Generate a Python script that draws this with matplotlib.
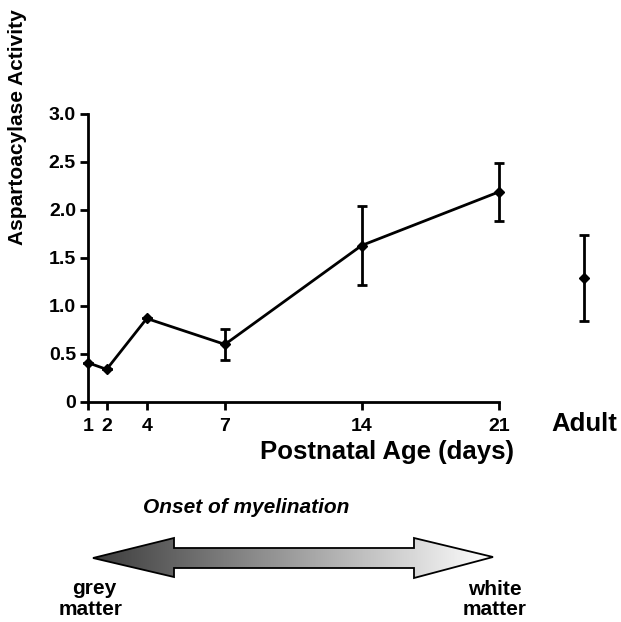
import numpy as np
import matplotlib
matplotlib.use("Agg")
import matplotlib.pyplot as plt
from matplotlib.patches import Polygon

plt.rcParams['font.family'] = ['Liberation Sans', 'DejaVu Sans']

# ---- data ----
days = [1, 2, 4, 7, 14, 21]
activity = [0.41, 0.34, 0.87, 0.60, 1.63, 2.19]
activity_err = [0.0, 0.0, 0.0, 0.16, 0.41, 0.30]
adult_label = "Adult"
adult_activity = 1.29
adult_err = 0.45
y_ticks = [0, 0.5, 1.0, 1.5, 2.0, 2.5, 3.0]
y_tick_labels = ["0", "0.5", "1.0", "1.5", "2.0", "2.5", "3.0"]

# ---- layout (positions on the drawn axis) ----
x_pos = [1, 1.92, 3.87, 7.67, 14.31, 21]
adult_pos = 25.13

W, H = 621, 622
fig = plt.figure(figsize=(W / 100, H / 100), dpi=100)
ax = fig.add_axes([87.7 / W, 1 - 402 / H, 535 / W, 288 / H])

for art in [
    ax.errorbar(x_pos, activity, yerr=activity_err, color='black', lw=2.0,
                marker='D', ms=5, capsize=3.3, elinewidth=2.0, capthick=2.0),
    ax.errorbar([adult_pos], [adult_activity], yerr=[adult_err], color='black',
                lw=0, marker='D', ms=5, capsize=3.3, elinewidth=2.0, capthick=2.0),
]:
    for child in art.get_children():
        child.set_clip_on(False)
    art.lines[0].set_clip_on(False)

ax.set_xlim(1, 27)
ax.set_ylim(0, 3.0)
for s in ['top', 'right']:
    ax.spines[s].set_visible(False)
ax.spines['bottom'].set_bounds(1, 21)
ax.spines['left'].set_bounds(0, 3.0)
for s in ['left', 'bottom']:
    ax.spines[s].set_linewidth(2.0)
ax.set_xticks(x_pos)
ax.set_xticklabels([str(d) for d in days], fontsize=14, fontweight='bold')
ax.set_yticks(y_ticks)
ax.set_yticklabels(y_tick_labels, fontsize=14, fontweight='bold')
ax.tick_params(axis='both', direction='out', length=5.5, width=2.0)
ax.tick_params(axis='y', pad=3)
ax.tick_params(axis='x', pad=6)
ax.patch.set_visible(False)

# Overlay in pixel coordinates for annotations
ov = fig.add_axes([0, 0, 1, 1])
ov.set_xlim(0, W)
ov.set_ylim(H, 0)
ov.axis('off')
ov.patch.set_visible(False)

ov.text(18, 127, "Aspartoacylase Activity", rotation=90, ha='center', va='center',
        fontsize=15, fontweight='bold')
ov.text(584, 431, adult_label, ha='center', va='baseline', fontsize=18.5, fontweight='bold')
ov.text(387, 459, "Postnatal Age (days)", ha='center', va='baseline', fontsize=18.5,
        fontweight='bold')
ov.text(246, 513, "Onset of myelination", ha='center', va='baseline', fontsize=15,
        fontweight='bold', style='italic')

# gradient double arrow
pts = [(93, 558), (174, 538), (174, 548), (414, 548), (414, 538), (493, 557),
       (414, 578), (414, 568), (174, 568), (174, 577)]
poly = Polygon(pts, closed=True, facecolor='none', edgecolor='black', lw=1.3, zorder=3)
ov.add_patch(poly)
grad = np.linspace(0, 1, 256).reshape(1, -1)
cmap = matplotlib.colors.LinearSegmentedColormap.from_list('g', ['#3c3c3c', '#ffffff'])
im = ov.imshow(grad, extent=[93, 493, 578, 538], cmap=cmap, aspect='auto', zorder=2)
im.set_clip_path(poly)
ov.set_xlim(0, W)
ov.set_ylim(H, 0)

ov.text(94, 594, "grey", ha='center', va='baseline', fontsize=15, fontweight='bold')
ov.text(91, 615, "matter", ha='center', va='baseline', fontsize=15, fontweight='bold')
ov.text(495, 595, "white", ha='center', va='baseline', fontsize=15, fontweight='bold')
ov.text(495, 615, "matter", ha='center', va='baseline', fontsize=15, fontweight='bold')

fig.savefig("out.png", dpi=100)
